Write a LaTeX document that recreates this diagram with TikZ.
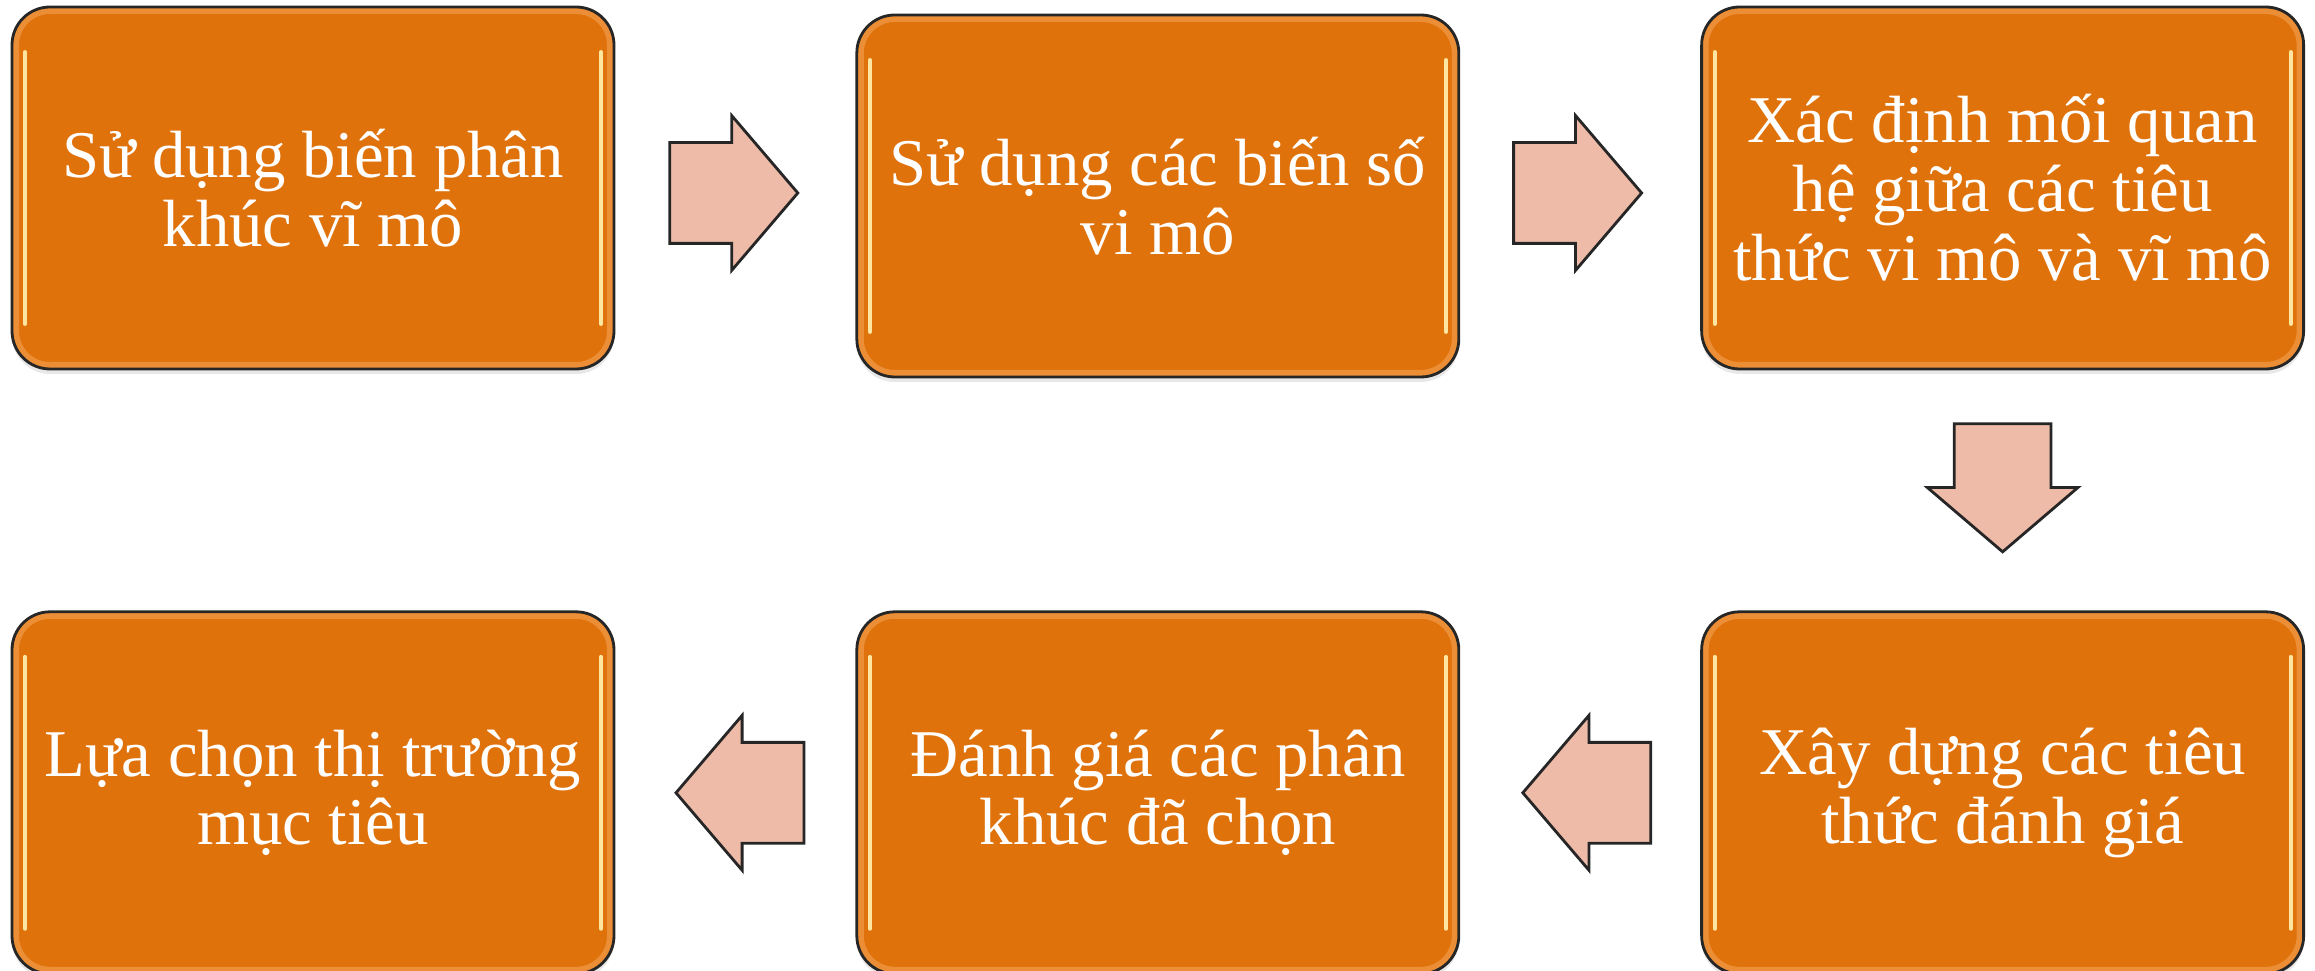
\documentclass[tikz,border=0pt]{standalone}
\usepackage{fontspec}
\setmainfont{Liberation Serif}
\usetikzlibrary{positioning, shapes.arrows, shadows}
\definecolor{boxOrange}{HTML}{E0720C}
\definecolor{rimOrange}{HTML}{F09A48}
\definecolor{arrowPink}{HTML}{EEBBA8}
\definecolor{glintYellow}{HTML}{FFE6A0}

\begin{document}
\begin{tikzpicture}[
        font=\fontsize{19}{19.6}\selectfont,
        node distance=2.4cm,
        glint/.style={glintYellow, line width=1.1pt, line cap=round},
        stepbox/.style={draw=black!85, line width=0.8pt, rounded corners=0.38cm,
                        fill=boxOrange, text=white, align=center,
                        minimum width=6.02cm, minimum height=3.62cm,
                        drop shadow={opacity=0.18, shadow xshift=0pt, shadow yshift=-0.5mm},
                        path picture={
                          \draw[rimOrange, opacity=0.7, line width=0.14cm, rounded corners=0.38cm]
                            (path picture bounding box.south west) rectangle
                            (path picture bounding box.north east);
                          \draw[glint] ([shift={(0.13,-0.45)}]path picture bounding box.north west)
                            -- ([shift={(0.13,0.45)}]path picture bounding box.south west);
                          \draw[glint] ([shift={(-0.13,-0.45)}]path picture bounding box.north east)
                            -- ([shift={(-0.13,0.45)}]path picture bounding box.south east);
                        }},
        flow/.style={single arrow, draw=black!85, line width=0.8pt, fill=arrowPink,
                     minimum height=1.28cm, inner xsep=0pt, inner ysep=0.49cm,
                     single arrow head extend=0.27cm, single arrow tip angle=99},
        flowdown/.style={flow, shape border rotate=270, inner xsep=0.47cm, inner ysep=0pt},
      ]
      \useasboundingbox (0,0) rectangle (23.15,-9.71);

      % top row, left to right
      \node[stepbox] (b1) at (3.13,-1.88) {Sử dụng biến phân\\khúc vĩ mô};
      \node[stepbox, right=of b1, yshift=-0.8mm] (b2) {Sử dụng các biến số\\vi mô};
      \node[stepbox, right=of b2, yshift=0.8mm] (b3) {Xác định mối quan\\hệ giữa các tiêu\\thức vi mô và vĩ mô};

      % bottom row, right to left
      \node[stepbox, below=of b3] (b6) {Xây dựng các tiêu\\thức đánh giá};
      \node[stepbox, left=of b6] (b5) {Đánh giá các phân\\khúc đã chọn};
      \node[stepbox, left=of b5] (b4) {Lựa chọn thị trường\\mục tiêu};

      % block arrows between the steps
      \node[flow, right=0.53cm of b1, yshift=-0.5mm] (a12) {};
      \node[flow, right=0.52cm of b2, yshift=0.3mm] (a23) {};
      \node[flowdown, below=0.52cm of b3] (a36) {};
      \node[flow, shape border rotate=180, left=0.48cm of b6] (a65) {};
      \node[flow, shape border rotate=180, left=0.5cm of b5] (a54) {};
    \end{tikzpicture}
\end{document}
